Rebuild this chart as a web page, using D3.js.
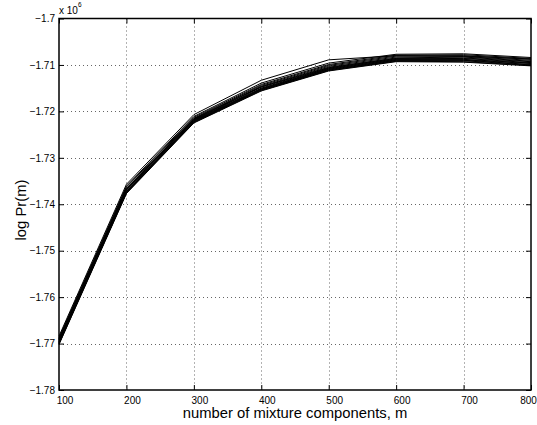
<!DOCTYPE html>
<html>
<head>
<meta charset="utf-8">
<script src="https://cdn.jsdelivr.net/npm/d3@7"></script>
<style>
  html, body { margin: 0; padding: 0; background: #fff; }
  svg { display: block; font-family: "Liberation Sans", Arial, Helvetica, sans-serif; }
</style>
</head>
<body>
<svg id="chart" width="537" height="425"></svg>
<script>
// Number of mixture components m
const components = [100, 200, 300, 400, 500, 600, 700, 800];

// log Pr(m), in units of 10^6, one array per run
const run01 = [-1.7684, -1.7357, -1.7207, -1.7133, -1.7089, -1.7080, -1.7081, -1.7087];
const run02 = [-1.7687, -1.7361, -1.7211, -1.7139, -1.7096, -1.7077, -1.7076, -1.7084];
const run03 = [-1.7690, -1.7363, -1.7213, -1.7142, -1.7099, -1.7079, -1.7078, -1.7086];
const run04 = [-1.7693, -1.7366, -1.7215, -1.7144, -1.7101, -1.7081, -1.7080, -1.7088];
const run05 = [-1.7696, -1.7368, -1.7216, -1.7146, -1.7103, -1.7083, -1.7082, -1.7090];
const run06 = [-1.7689, -1.7367, -1.7217, -1.7147, -1.7105, -1.7085, -1.7083, -1.7092];
const run07 = [-1.7698, -1.7370, -1.7218, -1.7148, -1.7106, -1.7086, -1.7085, -1.7093];
const run08 = [-1.7692, -1.7369, -1.7219, -1.7150, -1.7107, -1.7087, -1.7086, -1.7095];
const run09 = [-1.7699, -1.7372, -1.7220, -1.7151, -1.7108, -1.7088, -1.7088, -1.7096];
const run10 = [-1.7695, -1.7373, -1.7221, -1.7152, -1.7109, -1.7089, -1.7089, -1.7097];
const run11 = [-1.7700, -1.7374, -1.7222, -1.7153, -1.7110, -1.7090, -1.7090, -1.7099];
const run12 = [-1.7701, -1.7375, -1.7223, -1.7154, -1.7111, -1.7091, -1.7091, -1.7100];
const run13 = [-1.7697, -1.7376, -1.7224, -1.7155, -1.7112, -1.7092, -1.7093, -1.7101];
const run14 = [-1.7702, -1.7377, -1.7225, -1.7156, -1.7113, -1.7093, -1.7094, -1.7102];

const runs = [run01, run02, run03, run04, run05, run06, run07,
              run08, run09, run10, run11, run12, run13, run14];

// Tick values
const xTicks = [100, 200, 300, 400, 500, 600, 700, 800];
const yTicks = [-1.70, -1.71, -1.72, -1.73, -1.74, -1.75, -1.76, -1.77, -1.78];
const yTickLabels = ["\u22121.7", "\u22121.71", "\u22121.72", "\u22121.73", "\u22121.74",
                     "\u22121.75", "\u22121.76", "\u22121.77", "\u22121.78"];

const svg = d3.select("#chart");
const plotLeft = 59, plotRight = 531, plotTop = 18.5, plotBottom = 390;

const x = d3.scaleLinear().domain([100, 800]).range([plotLeft, plotRight]);
const y = d3.scaleLinear().domain([-1.78, -1.70]).range([plotBottom, plotTop]);

// Dotted grid
const grid = svg.append("g")
  .attr("stroke", "#666")
  .attr("stroke-width", 1)
  .attr("stroke-dasharray", "1,3");
grid.selectAll("line.gx")
  .data(xTicks.slice(1, -1))
  .join("line")
  .attr("x1", d => Math.round(x(d)) + 0.5)
  .attr("x2", d => Math.round(x(d)) + 0.5)
  .attr("y1", plotTop)
  .attr("y2", plotBottom);
grid.selectAll("line.gy")
  .data(yTicks.slice(1, -1))
  .join("line")
  .attr("x1", plotLeft)
  .attr("x2", plotRight)
  .attr("y1", d => Math.round(y(d)) + 0.5)
  .attr("y2", d => Math.round(y(d)) + 0.5);

// Runs
const line = d3.line()
  .x((d, i) => x(components[i]))
  .y(d => y(d));
svg.append("g")
  .selectAll("path")
  .data(runs)
  .join("path")
  .attr("d", line)
  .attr("fill", "none")
  .attr("stroke", "#000")
  .attr("stroke-width", 1);

// Axes with inward ticks
const fontSize = 10;
const xAxis = svg.append("g")
  .attr("transform", `translate(0,${plotBottom})`)
  .call(d3.axisBottom(x).tickValues(xTicks).tickSizeInner(-5).tickSizeOuter(0).tickPadding(6.5));
// labels sit slightly right of their ticks; the last one is kept inside the frame
xAxis.selectAll("text").attr("dx", d => d === 800 ? -3 : 5.5);

svg.append("g")
  .attr("transform", `translate(0,${plotTop})`)
  .call(d3.axisTop(x).tickValues(xTicks).tickSizeInner(-5).tickSizeOuter(0).tickFormat(""));

svg.append("g")
  .attr("transform", `translate(${plotLeft},0)`)
  .call(d3.axisLeft(y).tickValues(yTicks).tickSizeInner(-5).tickSizeOuter(0).tickPadding(4)
    .tickFormat((d, i) => yTickLabels[i]));

svg.append("g")
  .attr("transform", `translate(${plotRight},0)`)
  .call(d3.axisRight(y).tickValues(yTicks).tickSizeInner(-5).tickSizeOuter(0).tickFormat(""));

svg.selectAll(".domain").remove();
svg.selectAll(".tick line").attr("stroke", "#000").attr("stroke-width", 1);
svg.selectAll(".tick text")
  .attr("font-family", "'Liberation Sans', Arial, Helvetica, sans-serif")
  .attr("font-size", fontSize)
  .attr("fill", "#000");

// Plot box
svg.append("rect")
  .attr("x", plotLeft)
  .attr("y", plotTop)
  .attr("width", plotRight - plotLeft)
  .attr("height", plotBottom - plotTop)
  .attr("fill", "none")
  .attr("stroke", "#000")
  .attr("stroke-width", 1.5);

// Exponent label
const expo = svg.append("text")
  .attr("x", plotLeft)
  .attr("y", 14)
  .attr("font-size", 10)
  .attr("fill", "#000")
  .text("x 10");
expo.append("tspan")
  .attr("font-size", 6.5)
  .attr("dy", -7)
  .text("6");

// Axis titles
svg.append("text")
  .attr("x", (plotLeft + plotRight) / 2)
  .attr("y", 418)
  .attr("text-anchor", "middle")
  .attr("font-size", 14.8)
  .attr("fill", "#000")
  .text("number of mixture components, m");

svg.append("text")
  .attr("transform", "translate(26,210) rotate(-90)")
  .attr("text-anchor", "middle")
  .attr("font-size", 14.8)
  .attr("fill", "#000")
  .text("log Pr(m)");
</script>
</body>
</html>
